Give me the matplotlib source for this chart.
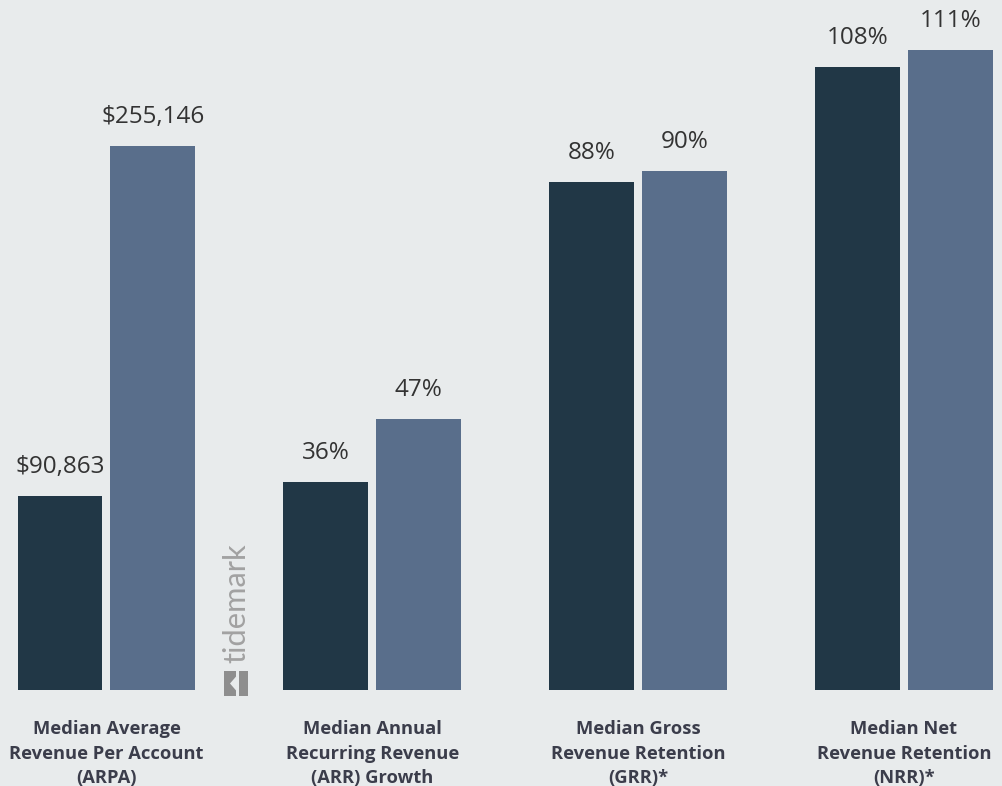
import matplotlib
matplotlib.use("Agg")
import matplotlib.pyplot as plt
from matplotlib.patches import Rectangle, Polygon

categories = ["Median Average\nRevenue Per Account\n(ARPA)",
              "Median Annual\nRecurring Revenue\n(ARR) Growth",
              "Median Gross\nRevenue Retention\n(GRR)*",
              "Median Net\nRevenue Retention\n(NRR)*"]
series_a = [90863, 36, 88, 108]      # dark bars
series_b = [255146, 47, 90, 111]     # light bars
labels_a = ["$90,863", "36%", "88%", "108%"]
labels_b = ["$255,146", "47%", "90%", "111%"]

BG = "#e8ebec"
DARK = "#213746"
LIGHT = "#596e8b"
TXT = "#333333"
CAT = "#3b3d4b"

W, H = 1003, 786
fig = plt.figure(figsize=(W / 100, H / 100), dpi=100, facecolor=BG)

base_px = 690
ax = fig.add_axes([0, (H - base_px) / H, 1, base_px / H])
ax.set_facecolor(BG)
for s in ax.spines.values():
    s.set_visible(False)
ax.set_xticks([])
ax.set_yticks([])

px_per_unit = 265.8
x0 = 106.5
ax.set_xlim(-x0 / px_per_unit, (W - x0) / px_per_unit)
ymax = 119.6
ax.set_ylim(0, ymax)

# ARPA on its own scale (twin axis sharing the same baseline)
ax2 = ax.twinx()
ax2.set_facecolor("none")
for s in ax2.spines.values():
    s.set_visible(False)
ax2.set_yticks([])
arpa_ymax = 255146 * base_px / 544.0
ax2.set_ylim(0, arpa_ymax)

bw = 85 / px_per_unit
off = 46.5 / px_per_unit
font = "Open Sans"
baselines = [734, 759, 783]

for i in range(4):
    target = ax2 if i == 0 else ax
    for val, lab, col, d in [(series_a[i], labels_a[i], DARK, -off),
                             (series_b[i], labels_b[i], LIGHT, off)]:
        target.bar(i + d, val, width=bw, color=col, linewidth=0)
        pad = (arpa_ymax if i == 0 else ymax) * 23 / base_px
        target.text(i + d, val + pad, lab, ha="center", va="baseline",
                    fontsize=17.5, color=TXT, family=font)
    for line, yb in zip(categories[i].split("\n"), baselines):
        fig.text((x0 + i * px_per_unit) / W, 1 - yb / H, line,
                 ha="center", va="baseline", fontsize=13.2, fontweight="bold",
                 color=CAT, family=font)

# tidemark watermark
fig.text(236 / W, 1 - 663 / H, "tidemark", rotation=90, ha="center", va="bottom",
         fontsize=22.2, color="#a2a2a2", family="Lato", fontweight="normal")
logo_ax = fig.add_axes([224 / W, 1 - 696 / H, 24 / W, 25 / H])
logo_ax.set_xlim(0, 24)
logo_ax.set_ylim(0, 25)
logo_ax.axis("off")
logo_ax.add_patch(Rectangle((0, 0), 12, 25, color="#8e8e8e", linewidth=0))
logo_ax.add_patch(Rectangle((15, 0), 9, 25, color="#8e8e8e", linewidth=0))
logo_ax.add_patch(Polygon([[12.5, 5], [6, 12.5], [12.5, 20]], color=BG, linewidth=0))

fig.savefig("out.png", dpi=100, facecolor=BG)
